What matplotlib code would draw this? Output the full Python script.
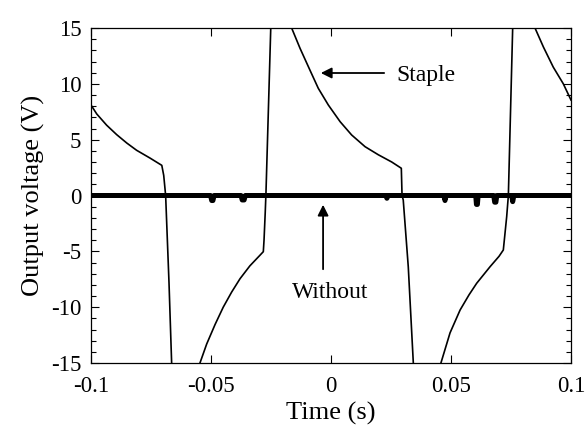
import numpy as np
import matplotlib
matplotlib.use("Agg")
import matplotlib.pyplot as plt
from matplotlib.ticker import MultipleLocator

plt.rcParams['font.family'] = ['Liberation Serif', 'DejaVu Serif']

# Staple waveform, segments separated by NaN (clipped at +/-15 by axes)
staple_t = [
    -0.1, -0.0976, -0.0935, -0.0893, -0.0851, -0.0810, -0.0754, -0.0705, -0.0697, -0.0689, -0.0675, -0.0664, np.nan,
    -0.0546, -0.0518, -0.0483, -0.0449, -0.0414, -0.0379, -0.0338, -0.0296, -0.0282, -0.0279, -0.0274, -0.0271, -0.0251, np.nan,
    -0.0164, -0.0129, -0.0088, -0.0053, -0.0011, 0.0038, 0.0086, 0.0142, 0.0197, 0.0253, 0.0293, 0.0296, 0.0301, 0.0322, 0.0343, np.nan,
    0.0458, 0.0496, 0.0538, 0.0575, 0.0607, 0.0663, 0.0700, 0.0718, 0.0732, 0.0739, 0.0757, np.nan,
    0.085, 0.0885, 0.0926, 0.0968, 0.1,
]
staple_v = [
    8.1, 7.3, 6.3, 5.45, 4.7, 4.05, 3.35, 2.7, 1.8, 0.0, -7.8, -15, np.nan,
    -15, -13.3, -11.55, -10.0, -8.65, -7.45, -6.3, -5.35, -5.03, -3.98, -1.5, 0.2, 15, np.nan,
    15, 13.18, 11.24, 9.60, 8.10, 6.61, 5.42, 4.37, 3.65, 3.0, 2.44, 0.0, -0.4, -6.4, -15, np.nan,
    -15, -12.3, -10.25, -8.9, -7.86, -6.37, -5.45, -4.88, -1.9, 0.0, 15, np.nan,
    15, 13.3, 11.5, 10.0, 8.55,
]

# Without staple: flat trace at zero with small negative glitches
without_t = [-0.1, -0.0502, -0.0497, -0.0492, -0.0487, -0.0375, -0.0370, -0.0362, -0.0357, 0.0228, 0.0233, 0.0238,
             0.0470, 0.0475, 0.0480, 0.0603, 0.0606, 0.0610, 0.0613, 0.0678, 0.0682, 0.0687, 0.0691,
             0.0753, 0.0757, 0.0762, 0.1]
without_v = [0.0, 0.0, -0.45, -0.45, 0.0, 0.0, -0.4, -0.4, 0.0, 0.0, -0.25, 0.0,
             0.0, -0.45, 0.0, 0.0, -0.8, -0.8, 0.0, 0.0, -0.6, -0.6, 0.0,
             0.0, -0.55, 0.0, 0.0]

x_ticks = [-0.1, -0.05, 0, 0.05, 0.1]
x_ticklabels = ['-0.1', '-0.05', '0', '0.05', '0.1']
y_ticks = [-15, -10, -5, 0, 5, 10, 15]
y_ticklabels = ['-15', '-10', '-5', '0', '5', '10', '15']

fig = plt.figure(figsize=(5.86, 4.28), dpi=100)
ax = fig.add_axes([91/586, 1-363/428, 480/586, 335/428])

ax.plot(without_t, without_v, color='black', lw=3.6, solid_capstyle='butt', solid_joinstyle='round')
ax.plot(staple_t, staple_v, color='black', lw=1.2)

ax.set_xlim(-0.1, 0.1)
ax.set_ylim(-15, 15)
ax.set_xticks(x_ticks)
ax.set_xticklabels(x_ticklabels)
ax.set_yticks(y_ticks)
ax.set_yticklabels(y_ticklabels)
ax.yaxis.set_minor_locator(MultipleLocator(1))
ax.tick_params(which='both', direction='in', top=True, right=True, labelsize=16.5, width=0.8)
ax.tick_params(which='major', length=6)
ax.tick_params(which='minor', length=3.5)
ax.tick_params(axis='x', pad=9)
ax.tick_params(axis='y', pad=7)
for s in ax.spines.values():
    s.set_linewidth(0.9)

ax.set_xlabel('Time (s)', fontsize=19, labelpad=4)
ax.set_ylabel('Output voltage (V)', fontsize=19, labelpad=4)

ax.annotate('', xy=(-0.0054, 10.97), xytext=(0.0233, 10.97),
            arrowprops=dict(arrowstyle='-|>', color='black', lw=1.3, mutation_scale=16))
ax.text(0.0271, 10.97, 'Staple', fontsize=17, ha='left', va='center_baseline')

ax.annotate('', xy=(-0.0033, -0.58), xytext=(-0.0033, -6.85),
            arrowprops=dict(arrowstyle='-|>', color='black', lw=1.3, mutation_scale=16))
ax.text(-0.0004, -8.46, 'Without', fontsize=17, ha='center', va='center_baseline')

fig.savefig('out.png', dpi=100)
